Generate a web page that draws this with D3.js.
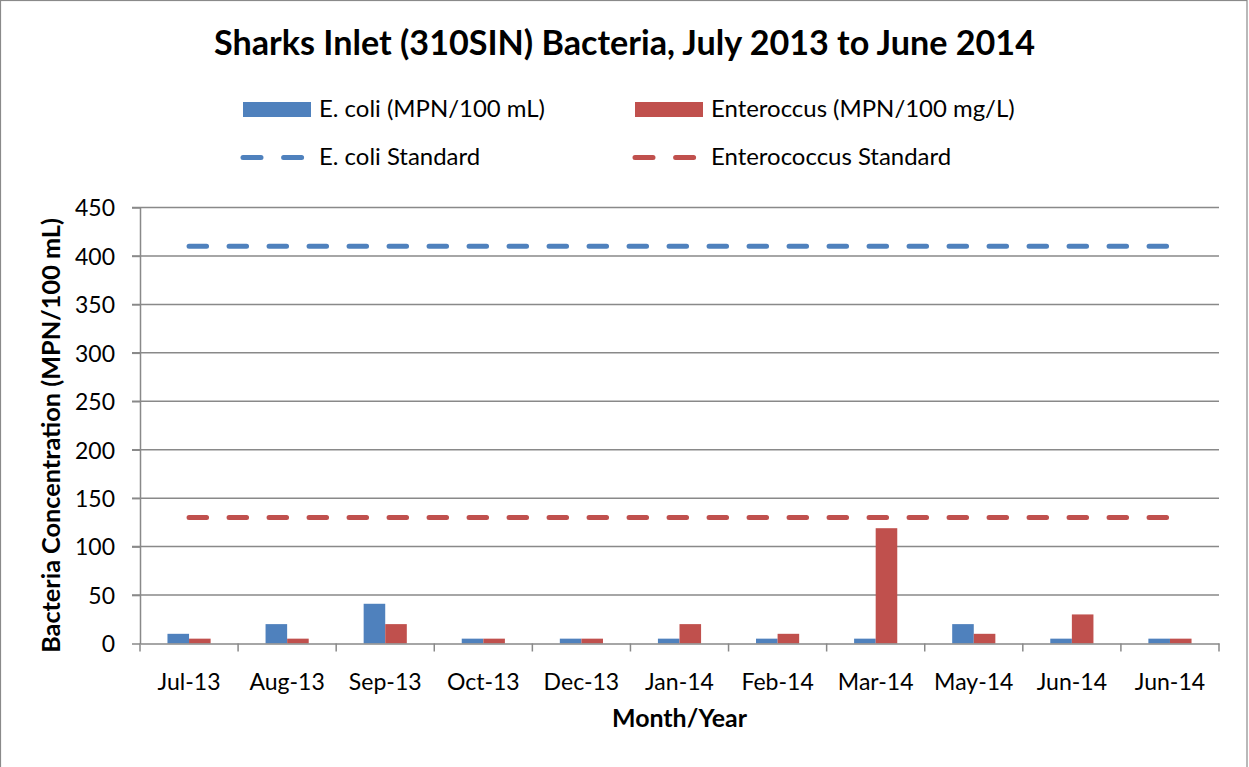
<!DOCTYPE html>
<html>
<head>
<meta charset="utf-8">
<script src="https://cdn.jsdelivr.net/npm/d3@7"></script>
<style>
  html, body { margin: 0; padding: 0; background: #fff; }
  svg { display: block; }
</style>
</head>
<body>
<svg id="chart" width="1249" height="767"></svg>
<script>
// ---- data ----
const categories = ["Jul-13","Aug-13","Sep-13","Oct-13","Dec-13","Jan-14","Feb-14","Mar-14","May-14","Jun-14","Jun-14"];
const ecoli      = [10, 20, 41, 5, 5, 5, 5, 5, 20, 5, 5];
const entero     = [5, 5, 20, 5, 5, 20, 10, 119, 10, 30, 5];
const ecoliStandard  = [410, 410, 410, 410, 410, 410, 410, 410, 410, 410, 410];
const enteroStandard = [130, 130, 130, 130, 130, 130, 130, 130, 130, 130, 130];
const yTicks = [0, 50, 100, 150, 200, 250, 300, 350, 400, 450];
const seriesNames = ["E. coli (MPN/100 mL)", "Enteroccus (MPN/100 mg/L)", "E. coli Standard", "Enterococcus Standard"];
const titleText = "Sharks Inlet (310SIN) Bacteria, July 2013 to June 2014";
const xTitle = "Month/Year";
const yTitle = "Bacteria Concentration (MPN/100 mL)";

// ---- styles ----
const FONT = "Lato, 'Open Sans', sans-serif";
const BLUE = "#4F81BD", RED = "#C0504D", GRID = "#898989";

const svg = d3.select("#chart");

function fitFont(text, weight, target) {
  const t = svg.append("text").attr("font-family", FONT).attr("font-weight", weight)
    .attr("font-size", 100).text(text);
  const w = t.node().getComputedTextLength();
  t.remove();
  return 100 * target / w;
}

const tickSize = fitFont("Jul-13", "normal", 63);
const yTickSize = fitFont("450", "normal", 40);
const legendSize = fitFont(seriesNames[0], "normal", 226);
const titleSize = fitFont(titleText, "bold", 821);
const xTitleSize = fitFont(xTitle, "bold", 135);
const yTitleSize = fitFont(yTitle, "bold", 435);

// outer border
svg.append("rect").attr("x", 0.5).attr("y", 0.5).attr("width", 1246.5).attr("height", 800)
  .attr("fill", "none").attr("stroke", "#8a8a8a").attr("stroke-width", 1.2);

// ---- scales ----
const plot = { left: 140, right: 1219, top: 207.5, bottom: 643.5 };
const idx = categories.map((d, i) => i);
const x0 = d3.scaleBand().domain(idx).range([plot.left, plot.right]).padding(0);
const bw = x0.bandwidth();
const groupW = bw * 0.44;
const x1 = d3.scaleBand().domain(["ecoli", "entero"]).range([(bw - groupW) / 2, (bw + groupW) / 2]).padding(0);
const y = d3.scaleLinear().domain([0, 450]).range([plot.bottom, plot.top]);

// gridlines
svg.append("g").selectAll("line").data(yTicks.filter(d => d > 0)).join("line")
  .attr("x1", plot.left - 8).attr("x2", plot.right)
  .attr("y1", d => y(d)).attr("y2", d => y(d))
  .attr("stroke", GRID).attr("stroke-width", 1.5);

// y axis
const yAxis = svg.append("g").attr("transform", `translate(${plot.left},0)`)
  .call(d3.axisLeft(y).tickValues(yTicks).tickSize(8).tickPadding(17).tickSizeOuter(0));
yAxis.select(".domain").attr("stroke", GRID).attr("stroke-width", 1.5);
yAxis.selectAll(".tick line").attr("stroke", GRID).attr("stroke-width", 1.5);
yAxis.selectAll(".tick text").attr("font-family", FONT).attr("font-size", yTickSize)
  .attr("fill", "#000").attr("dy", "0.36em");

// bars
const barData = idx.map(i => ({ i, vals: [{ k: "ecoli", v: ecoli[i] }, { k: "entero", v: entero[i] }] }));
const groups = svg.append("g").selectAll("g").data(barData).join("g")
  .attr("transform", d => `translate(${x0(d.i)},0)`);
groups.selectAll("rect").data(d => d.vals).join("rect")
  .attr("x", d => x1(d.k)).attr("width", x1.bandwidth())
  .attr("y", d => y(d.v)).attr("height", d => y(0) - y(d.v))
  .attr("fill", d => d.k === "ecoli" ? BLUE : RED);

// x axis
const xAxis = svg.append("g").attr("transform", `translate(0,${plot.bottom})`)
  .call(d3.axisBottom(x0).tickValues(idx).tickFormat(i => categories[i]).tickSize(0).tickPadding(30).tickSizeOuter(0));
xAxis.select(".domain").attr("stroke", GRID).attr("stroke-width", 1.5);
xAxis.selectAll(".tick text").attr("font-family", FONT).attr("font-size", tickSize).attr("fill", "#000");
// boundary tick marks
svg.append("g").selectAll("line").data(idx.concat([categories.length])).join("line")
  .attr("x1", i => i < categories.length ? x0(i) : plot.right)
  .attr("x2", i => i < categories.length ? x0(i) : plot.right)
  .attr("y1", plot.bottom).attr("y2", plot.bottom + 8)
  .attr("stroke", GRID).attr("stroke-width", 1.5);

// standard lines
const line = d3.line().x((d, i) => x0(i) + bw / 2).y(d => y(d));
[[ecoliStandard, BLUE], [enteroStandard, RED]].forEach(([arr, c]) => {
  svg.append("path").datum(arr).attr("d", line)
    .attr("fill", "none").attr("stroke", c).attr("stroke-width", 5)
    .attr("stroke-linecap", "round").attr("stroke-dasharray", "17.5,22.5");
});

// title
svg.append("text").attr("x", 624.5).attr("y", 55).attr("text-anchor", "middle")
  .attr("font-family", FONT).attr("font-weight", "bold").attr("font-size", titleSize)
  .attr("fill", "#000").text(titleText);

// legend
const leg = [
  { name: seriesNames[0], type: "rect", c: BLUE, x: 243, y: 109.5 },
  { name: seriesNames[1], type: "rect", c: RED, x: 635, y: 109.5 },
  { name: seriesNames[2], type: "line", c: BLUE, x: 243, y: 157.5 },
  { name: seriesNames[3], type: "line", c: RED, x: 635, y: 157.5 }
];
leg.forEach(d => {
  if (d.type === "rect") {
    svg.append("rect").attr("x", d.x).attr("y", d.y - 7.5).attr("width", 68).attr("height", 15).attr("fill", d.c);
  } else {
    svg.append("line").attr("x1", d.x).attr("x2", d.x + 68).attr("y1", d.y).attr("y2", d.y)
      .attr("stroke", d.c).attr("stroke-width", 5).attr("stroke-linecap", "round")
      .attr("stroke-dasharray", "18,22.6");
  }
  svg.append("text").attr("x", d.x + 76).attr("y", d.y + 7.5)
    .attr("font-family", FONT).attr("font-size", legendSize).attr("fill", "#000").text(d.name);
});

// axis titles
svg.append("text").attr("x", (plot.left + plot.right) / 2).attr("y", 727).attr("text-anchor", "middle")
  .attr("font-family", FONT).attr("font-weight", "bold").attr("font-size", xTitleSize)
  .attr("fill", "#000").text(xTitle);
svg.append("text").attr("transform", `translate(60,435.5) rotate(-90)`).attr("text-anchor", "middle")
  .attr("font-family", FONT).attr("font-weight", "bold").attr("font-size", yTitleSize)
  .attr("fill", "#000").text(yTitle);
</script>
</body>
</html>
